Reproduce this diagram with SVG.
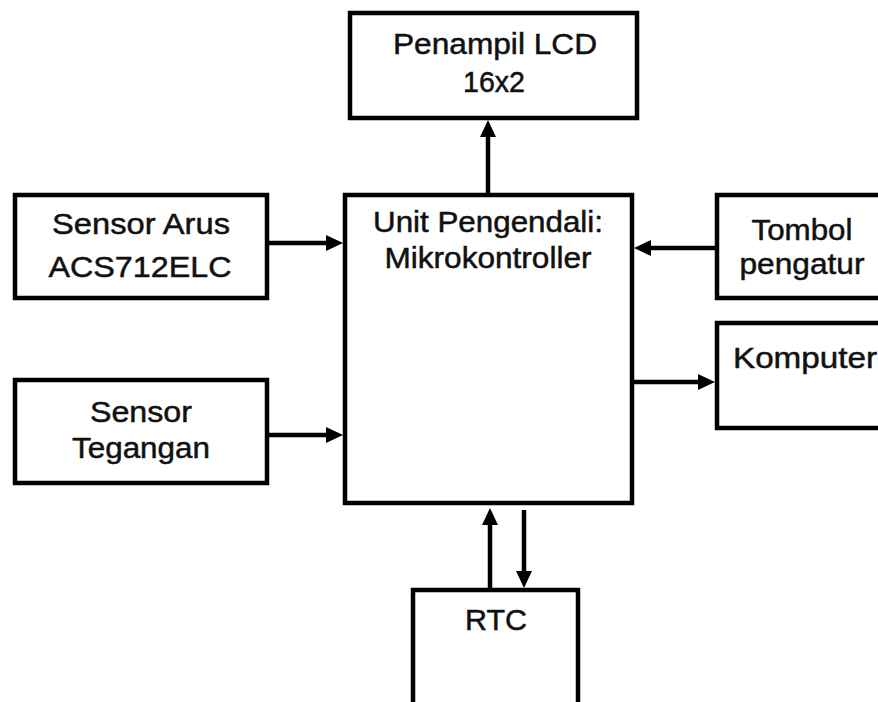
<svg xmlns="http://www.w3.org/2000/svg" width="878" height="702" viewBox="0 0 878 702">
<style>
.box{fill:#fff;stroke:#000;stroke-width:4.5}
.t{font-family:"Liberation Sans",Arial,sans-serif;font-size:30px;fill:#111;stroke:#111;stroke-width:0.5;text-anchor:middle}
.c{stroke:#000;stroke-width:4.5;fill:none;marker-end:url(#ah)}
</style>
<defs>
<marker id="ah" markerUnits="userSpaceOnUse" markerWidth="18" markerHeight="18" refX="5" refY="8.5" orient="auto">
<path d="M0,0.5 L17,8.5 L0,16.5 z" fill="#000"/>
</marker>
</defs>
<rect width="878" height="702" fill="#fff"/>
<g id="lcd">
<rect class="box" x="350" y="13" width="287" height="105"/>
<text class="t" x="495" y="54" textLength="204" lengthAdjust="spacingAndGlyphs">Penampil LCD</text>
<text class="t" x="494" y="92" textLength="62" lengthAdjust="spacingAndGlyphs">16x2</text>
</g>
<g id="mcu">
<rect class="box" x="345" y="195" width="287" height="308"/>
<text class="t" x="488" y="232" textLength="230" lengthAdjust="spacingAndGlyphs">Unit Pengendali:</text>
<text class="t" x="488" y="268" textLength="207" lengthAdjust="spacingAndGlyphs">Mikrokontroller</text>
</g>
<g id="sensor-arus">
<rect class="box" x="15" y="195" width="252" height="103"/>
<text class="t" x="141" y="234" textLength="178" lengthAdjust="spacingAndGlyphs">Sensor Arus</text>
<text class="t" x="140" y="277" textLength="183" lengthAdjust="spacingAndGlyphs">ACS712ELC</text>
</g>
<g id="sensor-tegangan">
<rect class="box" x="15" y="380" width="252" height="103"/>
<text class="t" x="141" y="422" textLength="102" lengthAdjust="spacingAndGlyphs">Sensor</text>
<text class="t" x="141" y="458" textLength="138" lengthAdjust="spacingAndGlyphs">Tegangan</text>
</g>
<g id="tombol">
<rect class="box" x="717" y="195" width="180" height="103"/>
<text class="t" x="802" y="240" textLength="101" lengthAdjust="spacingAndGlyphs">Tombol</text>
<text class="t" x="802" y="274" textLength="125" lengthAdjust="spacingAndGlyphs">pengatur</text>
</g>
<g id="komputer">
<rect class="box" x="717" y="323" width="180" height="105"/>
<text class="t" x="805" y="368" textLength="144" lengthAdjust="spacingAndGlyphs">Komputer</text>
</g>
<g id="rtc">
<rect class="box" x="413" y="590" width="165" height="130"/>
<text class="t" x="496" y="630" textLength="62" lengthAdjust="spacingAndGlyphs">RTC</text>
</g>
<g id="connectors">
<line class="c" x1="488" y1="193" x2="488" y2="132"/>
<line class="c" x1="269" y1="243" x2="331" y2="243"/>
<line class="c" x1="269" y1="435" x2="331" y2="435"/>
<line class="c" x1="715" y1="248" x2="646" y2="248"/>
<line class="c" x1="634" y1="382" x2="703" y2="382"/>
<line class="c" x1="490" y1="588" x2="490" y2="520"/>
<line class="c" x1="524" y1="510" x2="524" y2="576"/>
</g>
</svg>
